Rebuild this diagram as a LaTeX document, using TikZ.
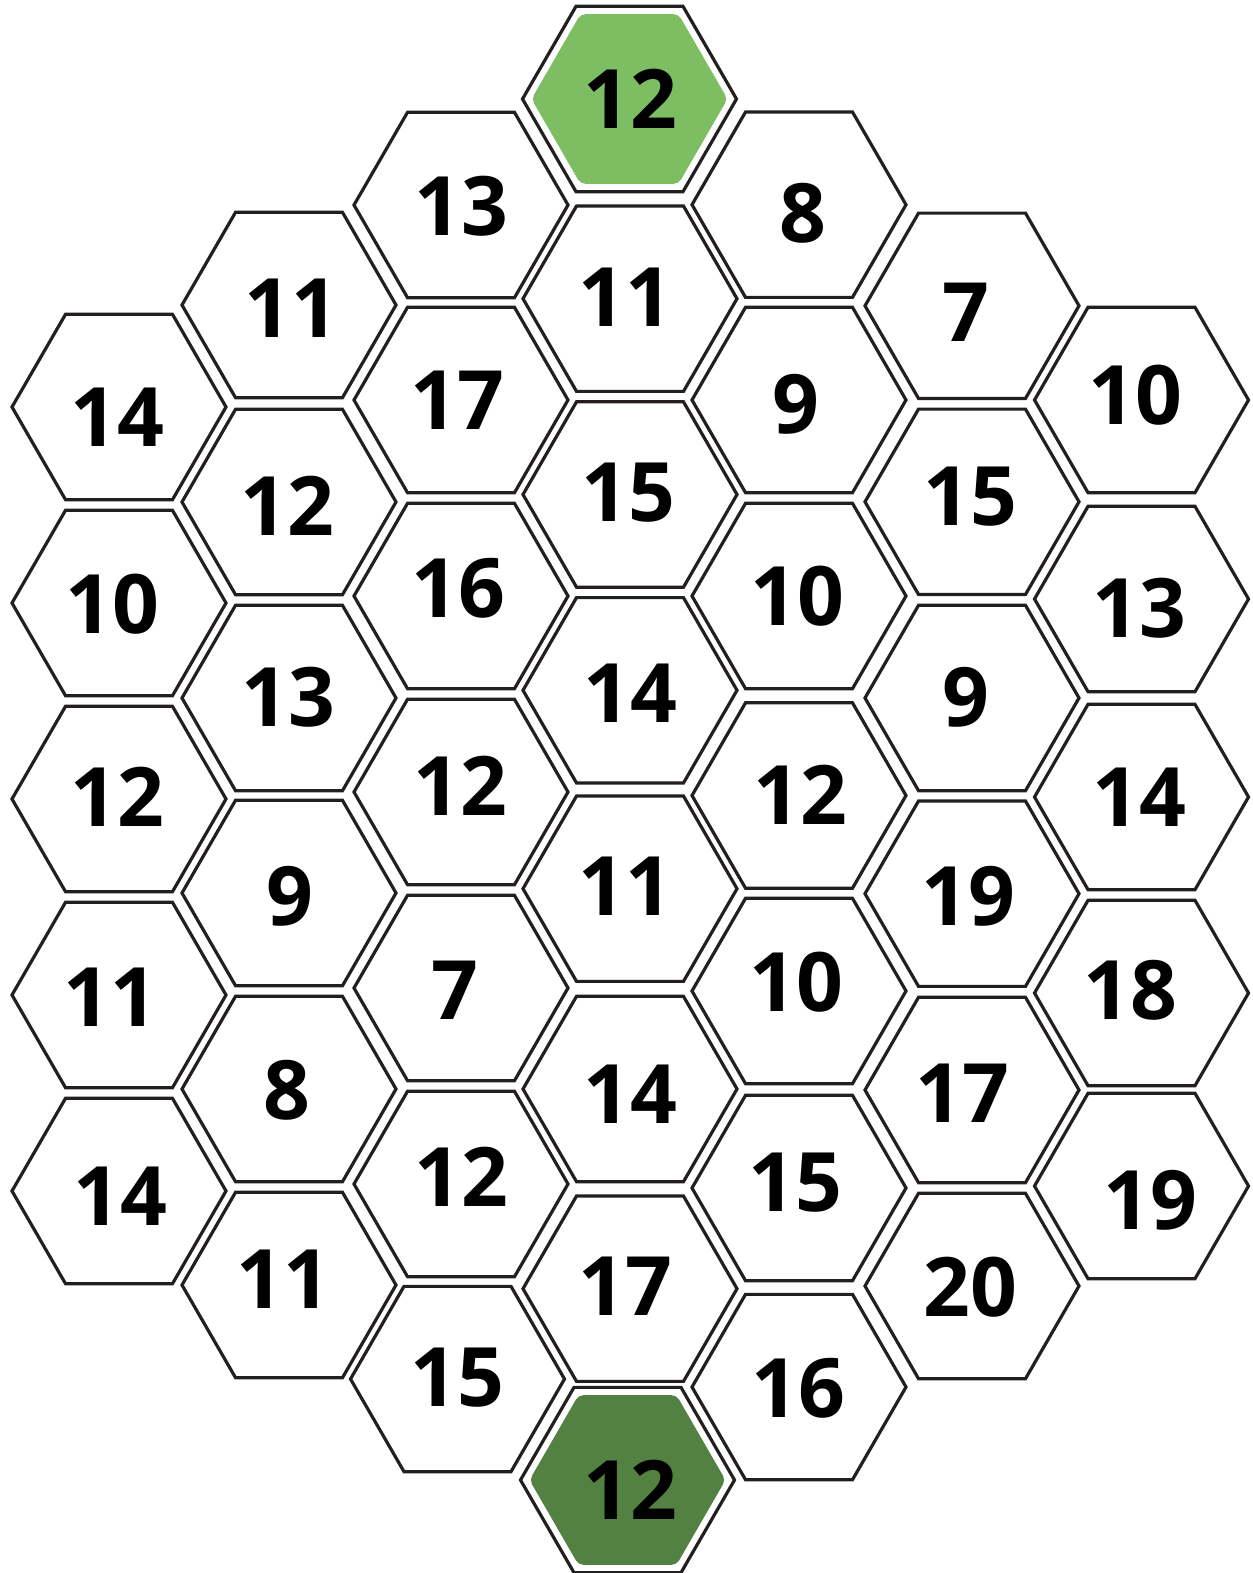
\documentclass[tikz,border=0pt]{standalone}
\usepackage{fontspec}
\setmainfont{Open Sans}
\usetikzlibrary{shapes.geometric}
\definecolor{linecol}{HTML}{231F20}
\definecolor{lightgreen}{RGB}{125,190,99}
\definecolor{darkgreen}{RGB}{83,129,65}
\tikzset{
  hex/.style={regular polygon, regular polygon sides=6, minimum size=214pt,
    inner sep=0pt, outer sep=0pt, draw=linecol, line width=3.2pt, fill=white},
  greenhex/.style={regular polygon, regular polygon sides=6, minimum size=196pt,
    inner sep=0pt, outer sep=0pt, draw=none, rounded corners=5pt, fill=#1},
  num/.style={inner sep=0pt, outer sep=0pt, text=black,
    font=\fontsize{82}{82}\selectfont\bfseries}
}
\begin{document}
\begin{tikzpicture}[x=1pt,y=-1pt]
\useasboundingbox (0,0) rectangle (1252,1573);
\foreach \name/\hx/\hy/\n/\tx/\ty in {
  a1/119/407/14/117.5/417.5, a2/119/603/10/112.5/604, a3/119/799/12/117/797,
  a4/119/995/11/110/997, a5/119/1191/14/120.7/1196,
  b1/289/305/11/291/308, b2/289/502/12/287.5/506, b3/289/698/13/288/697,
  b4/289/893/9/290/896, b5/289/1089/8/286.7/1090, b6/289/1285/11/283/1279,
  c1/461/205/13/461.5/206, c2/461/400/17/457/400, c3/461/596/16/458/588,
  c4/461/792/12/460/785.5, c5/461/988/7/455/990, c6/461/1184/12/461.5/1177,
  c7/457.5/1379/15/457.5/1378,
  d1/630/298.7/11/625.5/297.6, d2/630/494.5/15/628/493, d3/630/690.3/14/630.5/693,
  d4/630/888.7/11/625.5/886, d5/630/1089/14/630.5/1094, d6/630/1288.7/17/625/1286.7,
  e1/799/204.7/8/803/213, e2/799/400/9/796/404, e3/799/596/10/797/596,
  e4/799/795.5/12/800/795, e5/799/991/10/796/982, e6/799/1188/15/795/1183,
  e7/799/1387/16/798.5/1388,
  f1/972/305.8/7/966/312, f2/972/501.8/15/970/497, f3/972/698/9/966/697,
  f4/972/893.7/19/968/896.7, f5/972/1090/17/962/1093, f6/972/1286/20/970/1287,
  g1/1141.5/400/10/1135/395, g2/1141.5/599/13/1139.5/608, g3/1141.5/797/14/1139/797,
  g4/1141.5/993/18/1130/990, g5/1141.5/1186/19/1150.5/1200}
{
  \node[hex] (h\name) at (\hx,\hy) {};
  \node[num] (t\name) at (\tx,\ty) {\n};
}
% green hexes
\node[hex] (hd0) at (629.5,99) {};
\node[greenhex=lightgreen] (gd0) at (629.5,99) {};
\node[num] (td0) at (630.5,99) {12};
\node[hex] (hd7) at (627.5,1480) {};
\node[greenhex=darkgreen] (gd7) at (627.5,1480) {};
\node[num] (td7) at (630.5,1490) {12};
\end{tikzpicture}
\end{document}
